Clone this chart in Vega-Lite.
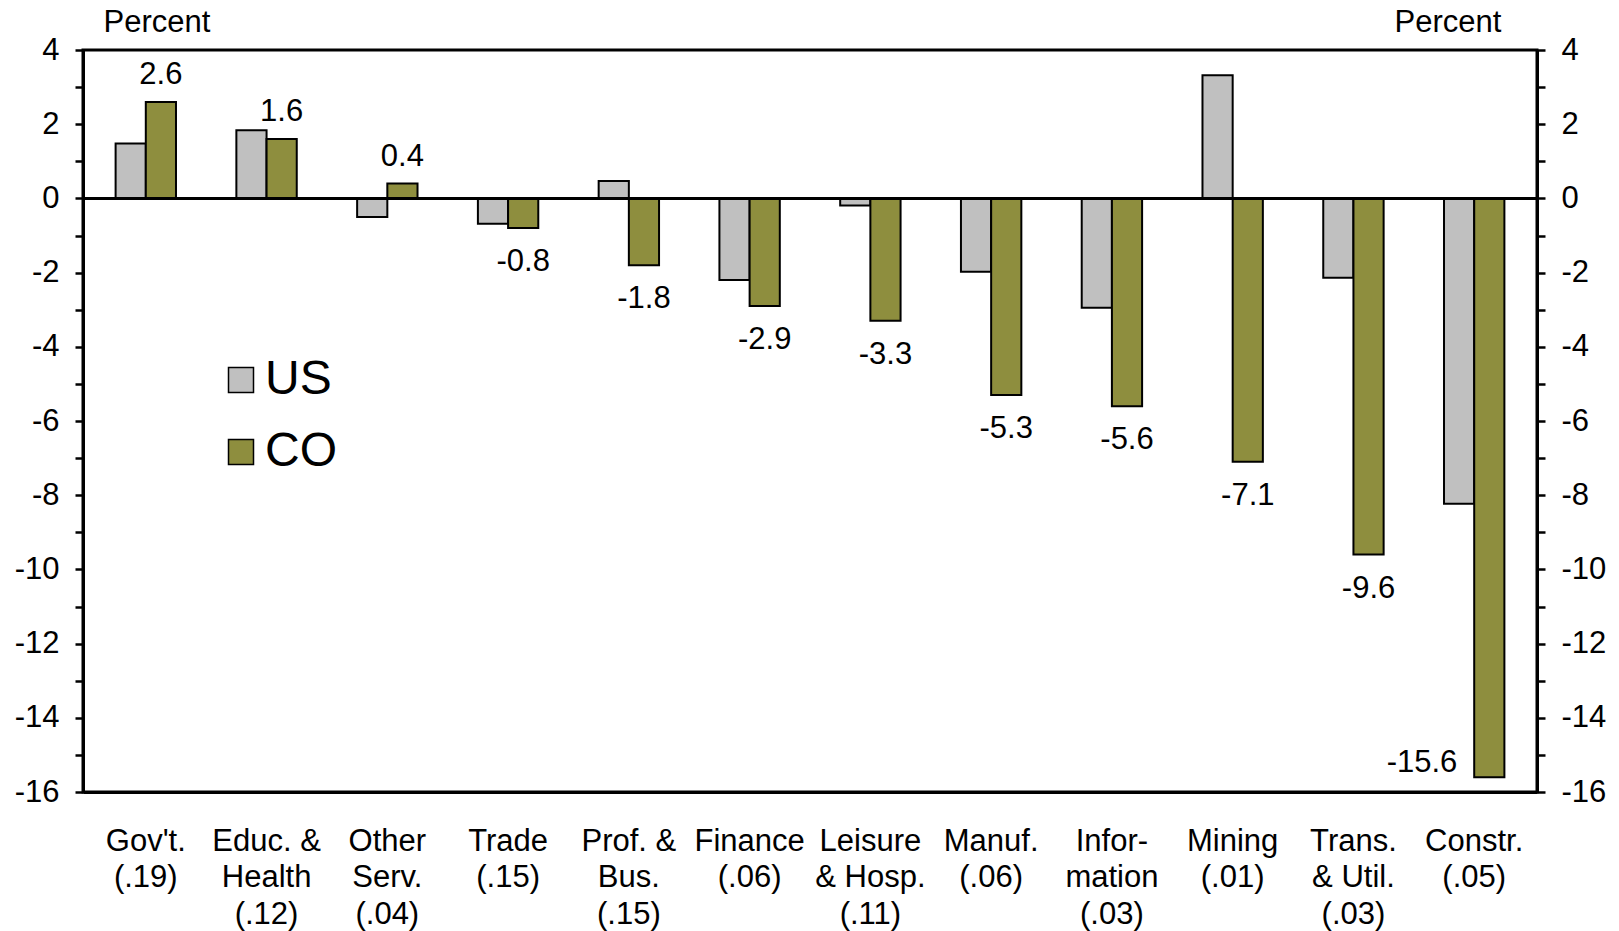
{
  "$schema": "https://vega.github.io/schema/vega-lite/v6.json",
  "width": 1454,
  "height": 742,
  "autosize": {"type": "none"},
  "padding": {"left": 83, "top": 50, "right": 82, "bottom": 139},
  "background": "white",
  "config": {
    "font": "Liberation Sans",
    "locale": {
      "number": {"decimal": ".", "thousands": ",", "grouping": [3], "currency": ["$", ""], "minus": "-"}
    },
    "view": {"stroke": "black", "strokeWidth": 3},
    "axis": {
      "grid": false,
      "domainColor": "black",
      "domainWidth": 3,
      "tickColor": "black",
      "tickWidth": 2.5,
      "labelColor": "black",
      "labelFontSize": 31,
      "labelFont": "Liberation Sans",
      "titleFont": "Liberation Sans",
      "titleFontSize": 31,
      "titleFontWeight": "normal",
      "titleColor": "black"
    },
    "legend": {"labelFont": "Liberation Sans"}
  },
  "data": {
    "values": [
      {"sector": "Gov't.|(.19)", "region": "US", "value": 1.48},
      {"sector": "Gov't.|(.19)", "region": "CO", "value": 2.6},
      {"sector": "Educ. &|Health|(.12)", "region": "US", "value": 1.84},
      {"sector": "Educ. &|Health|(.12)", "region": "CO", "value": 1.6},
      {"sector": "Other|Serv.|(.04)", "region": "US", "value": -0.5},
      {"sector": "Other|Serv.|(.04)", "region": "CO", "value": 0.4},
      {"sector": "Trade|(.15)", "region": "US", "value": -0.68},
      {"sector": "Trade|(.15)", "region": "CO", "value": -0.8},
      {"sector": "Prof. &|Bus.|(.15)", "region": "US", "value": 0.47},
      {"sector": "Prof. &|Bus.|(.15)", "region": "CO", "value": -1.8},
      {"sector": "Finance|(.06)", "region": "US", "value": -2.2},
      {"sector": "Finance|(.06)", "region": "CO", "value": -2.9},
      {"sector": "Leisure|& Hosp.|(.11)", "region": "US", "value": -0.19},
      {"sector": "Leisure|& Hosp.|(.11)", "region": "CO", "value": -3.3},
      {"sector": "Manuf.|(.06)", "region": "US", "value": -1.98},
      {"sector": "Manuf.|(.06)", "region": "CO", "value": -5.3},
      {"sector": "Infor-|mation|(.03)", "region": "US", "value": -2.95},
      {"sector": "Infor-|mation|(.03)", "region": "CO", "value": -5.6},
      {"sector": "Mining|(.01)", "region": "US", "value": 3.32},
      {"sector": "Mining|(.01)", "region": "CO", "value": -7.1},
      {"sector": "Trans.|& Util.|(.03)", "region": "US", "value": -2.14},
      {"sector": "Trans.|& Util.|(.03)", "region": "CO", "value": -9.6},
      {"sector": "Constr.|(.05)", "region": "US", "value": -8.23},
      {"sector": "Constr.|(.05)", "region": "CO", "value": -15.6}
    ]
  },
  "encoding": {
    "x": {
      "field": "sector",
      "type": "nominal",
      "sort": null,
      "scale": {"paddingInner": 0.5, "paddingOuter": 0.27},
      "axis": {
        "title": null,
        "orient": "bottom",
        "labelAngle": 0,
        "ticks": false,
        "labelOverlap": false,
        "labelBound": false,
        "labelLimit": 300,
        "labelBaseline": "top",
        "labelPadding": 34,
        "labelLineHeight": 36.6,
        "labelExpr": "split(datum.label, '|')"
      }
    },
    "xOffset": {"field": "region", "type": "nominal", "scale": {"domain": ["US", "CO"]}}
  },
  "layer": [
    {
      "mark": {"type": "bar", "stroke": "black", "strokeWidth": 2},
      "encoding": {
        "y": {
          "field": "value",
          "type": "quantitative",
          "scale": {"domain": [-16, 4], "nice": false, "zero": false},
          "axis": {
            "orient": "left",
            "values": [-16, -15, -14, -13, -12, -11, -10, -9, -8, -7, -6, -5, -4, -3, -2, -1, 0, 1, 2, 3, 4],
            "labelExpr": "datum.value % 2 === 0 ? datum.label : ''",
            "tickSize": 8,
            "labelPadding": 16,
            "title": "Percent",
            "titleAngle": 0,
            "titleAlign": "left",
            "titleBaseline": "middle",
            "titleX": 20,
            "titleY": -28
          }
        },
        "color": {
          "field": "region",
          "type": "nominal",
          "scale": {"domain": ["US", "CO"], "range": ["#C0C0C0", "#8E8E3E"]},
          "legend": {
            "title": null,
            "orient": "none",
            "legendX": 134,
            "legendY": 306,
            "symbolType": "square",
            "symbolSize": 625,
            "symbolStrokeColor": "black",
            "symbolStrokeWidth": 1.5,
            "symbolOpacity": 1,
            "labelFontSize": 48,
            "labelColor": "black",
            "labelOffset": 0,
            "rowPadding": 24
          }
        }
      }
    },
    {
      "mark": {"type": "rule", "color": "black", "strokeWidth": 3},
      "encoding": {
        "x": null,
        "xOffset": null,
        "y": {
          "datum": 0,
          "type": "quantitative",
          "axis": {
            "orient": "right",
            "values": [-16, -15, -14, -13, -12, -11, -10, -9, -8, -7, -6, -5, -4, -3, -2, -1, 0, 1, 2, 3, 4],
            "labelExpr": "datum.value % 2 === 0 ? datum.label : ''",
            "tickSize": 8,
            "labelPadding": 16,
            "title": "Percent",
            "titleAngle": 0,
            "titleAlign": "left",
            "titleBaseline": "middle",
            "titleX": -143,
            "titleY": -28
          }
        }
      }
    },
    {
      "transform": [{"filter": "datum.region === 'CO' && datum.value > 0"}],
      "mark": {"type": "text", "fontSize": 31, "color": "black", "baseline": "middle", "dy": -27},
      "encoding": {
        "y": {"field": "value", "type": "quantitative", "axis": null},
        "text": {"field": "value", "type": "quantitative", "format": ".1f"}
      }
    },
    {
      "transform": [{"filter": "datum.region === 'CO' && datum.value < 0 && datum.value > -15"}],
      "mark": {"type": "text", "fontSize": 31, "color": "black", "baseline": "middle", "dy": 34},
      "encoding": {
        "y": {"field": "value", "type": "quantitative", "axis": null},
        "text": {"field": "value", "type": "quantitative", "format": ".1f"}
      }
    },
    {
      "transform": [{"filter": "datum.region === 'CO' && datum.value <= -15"}],
      "mark": {"type": "text", "fontSize": 31, "color": "black", "baseline": "middle", "align": "right", "dx": -32, "dy": -14},
      "encoding": {
        "y": {"field": "value", "type": "quantitative", "axis": null},
        "text": {"field": "value", "type": "quantitative", "format": ".1f"}
      }
    }
  ],
  "resolve": {"axis": {"y": "independent"}}
}
